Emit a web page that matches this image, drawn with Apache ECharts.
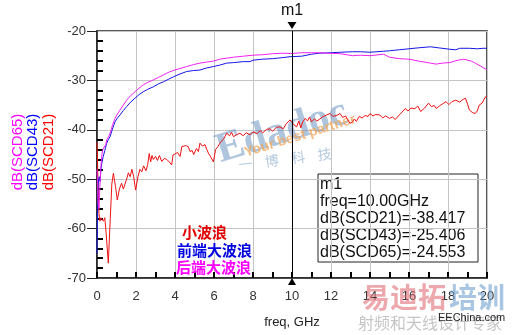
<!DOCTYPE html>
<html>
<head>
<meta charset="utf-8">
<script src="https://cdn.jsdelivr.net/npm/echarts@6/dist/echarts.min.js"></script>
<style>html,body{margin:0;padding:0;background:#fff;}#c{width:512px;height:335px;}</style>
</head>
<body>
<div id="c"></div>
<script>
// ---- data ----
var scd21Freq = [0,0.03,0.07,0.1,0.15,0.2,0.27,0.33,0.4,0.47,0.58,0.68,0.76,0.84,0.95,1.04,1.15,1.26,1.35,1.44,1.52,1.61,1.7,1.79,1.88,1.98,2.1,2.2,2.3,2.39,2.51,2.6,2.68,2.75,2.82,2.89,3.0,3.1,3.2,3.32,3.45,3.58,3.7,3.83,3.9,4.0,4.13,4.26,4.35,4.43,4.55,4.68,4.77,4.88,4.96,5.1,5.2,5.28,5.4,5.47,5.54,5.63,5.71,5.85,5.97,6.08,6.2,6.3,6.39,6.5,6.65,6.8,6.9,7.0,7.15,7.33,7.5,7.65,7.85,8.0,8.2,8.36,8.5,8.7,8.87,9.0,9.2,9.38,9.55,9.7,9.9,10.0,10.1,10.24,10.35,10.45,10.55,10.67,10.8,10.9,11.0,11.15,11.27,11.4,11.55,11.65,11.78,11.95,12.1,12.2,12.35,12.46,12.6,12.75,12.85,12.97,13.1,13.2,13.3,13.45,13.6,13.75,13.9,14.0,14.15,14.3,14.5,14.65,14.8,15.0,15.15,15.3,15.5,15.65,15.8,15.95,16.1,16.3,16.45,16.6,16.8,17.0,17.15,17.3,17.4,17.55,17.7,17.9,18.05,18.2,18.4,18.6,18.75,18.9,19.0,19.1,19.25,19.4,19.5,19.6,19.75,19.85,19.95,20];
var scd21Db = [-42.5,-47,-53,-57,-58.5,-57.8,-58,-58.5,-57.8,-61,-67,-58,-51,-48.8,-51.5,-54.2,-52,-50.8,-52,-51.8,-50,-48.7,-49.5,-48,-49.5,-52.2,-49.5,-48,-48.5,-47.3,-48.3,-47,-44.8,-46.5,-45.2,-46,-45.4,-46.2,-45.2,-46.4,-45.8,-46,-46.5,-47.1,-45.1,-45.4,-44.6,-45.4,-43.4,-43.8,-43.2,-43.4,-44.4,-44.2,-45,-43.8,-44.4,-42.7,-43.3,-43.7,-43,-44,-44.7,-45.6,-46.5,-44,-43.4,-42.7,-43,-41.8,-40.7,-41.2,-40.5,-41.4,-41,-40.7,-41.2,-40.6,-41,-40.4,-40.8,-40.2,-40.6,-39.9,-39.8,-40.3,-39.5,-39.4,-39.8,-38.8,-38,-38.4,-39,-39.4,-38.2,-39.6,-38.4,-37.7,-38.2,-37.4,-38.4,-37.8,-38.2,-37.9,-37.4,-37.8,-37,-36.7,-37.3,-37.7,-37,-36.7,-37.5,-37.2,-37.9,-38.7,-38.4,-37.8,-38.3,-37.3,-37.6,-37.1,-37.3,-36.7,-37.2,-36.9,-37,-37.6,-37.2,-37.7,-37.4,-37.9,-37,-36.4,-35.7,-36.2,-35.6,-35.7,-35.2,-36.3,-35.6,-34.6,-35.3,-35.1,-35.7,-35.2,-34.8,-34.3,-34.9,-34.3,-34,-34.4,-33.9,-33.6,-34.8,-36,-36.5,-36.7,-36.2,-35,-34.6,-33.8,-33.2,-33.3];

var scd43Freq = [0,0.02,0.05,0.08,0.12,0.16,0.2,0.26,0.32,0.4,0.5,0.58,0.67,0.72,0.78,0.85,0.92,1.05,1.18,1.35,1.52,1.72,1.95,2.15,2.37,2.6,2.89,3.15,3.4,3.65,3.91,4.25,4.6,4.95,5.28,5.6,5.97,6.3,6.65,7.0,7.5,7.85,8.0,8.5,9.0,9.5,9.9,10.0,10.5,11.0,11.4,11.95,12.5,13.1,13.5,14.0,14.7,15.0,15.5,16.0,16.5,17.1,17.5,18.1,18.4,18.6,19.1,19.5,19.8,20];
var scd43Db = [-65,-58,-52,-50,-49.5,-50.5,-48,-46.5,-45.4,-44.2,-42.7,-42,-41.4,-41.6,-40,-39.2,-38.4,-37.6,-37,-36.1,-35.3,-34.4,-33.6,-32.9,-32.3,-31.8,-31.3,-30.7,-30.3,-29.8,-29.3,-28.7,-28.2,-28,-27.9,-27.5,-27.2,-26.9,-26.5,-26.4,-26.2,-26.2,-25.9,-25.7,-25.6,-25.4,-25.2,-25.4,-25.1,-24.7,-24.5,-24.4,-24.3,-24.2,-24.2,-24.3,-24.1,-24,-23.8,-23.6,-23.4,-23.2,-23.4,-23.7,-23.8,-23.5,-23.5,-23.6,-23.5,-23.5];

var scd65Freq = [0,0.03,0.06,0.1,0.14,0.2,0.25,0.3,0.37,0.45,0.5,0.58,0.67,0.8,0.92,1.05,1.18,1.35,1.52,1.72,1.95,2.15,2.37,2.6,2.89,3.15,3.4,3.65,3.91,4.25,4.6,4.95,5.28,5.6,5.97,6.3,6.65,7.0,7.5,8.0,8.5,9.0,9.5,10.0,10.5,11.0,11.4,11.9,12.5,13.1,13.5,14.0,14.7,15.0,15.5,16.0,16.5,17.1,17.4,17.7,18.1,18.4,18.8,19.2,19.4,19.8,20];
var scd65Db = [-48,-51,-55,-56,-52,-47.5,-45,-44,-43.5,-43,-42,-41.5,-40.7,-39,-37.7,-36.8,-36,-35,-34,-33.1,-32.3,-31.6,-30.9,-30.4,-29.9,-29.4,-28.9,-28.4,-28,-27.6,-27.2,-26.8,-26.5,-26.3,-26.1,-25.7,-25.5,-25.3,-25.1,-24.9,-24.8,-24.6,-24.5,-24.55,-24.4,-24.4,-24.4,-24.5,-24.6,-25.0,-24.9,-25.0,-24.7,-25.3,-25.6,-25.7,-26.1,-26.5,-26.7,-26.5,-26.4,-26.0,-25.7,-26.1,-26.5,-27.4,-27.9];

var seriesNames = ['dB(SCD21)', 'dB(SCD43)', 'dB(SCD65)'];
var xTicks = [0,2,4,6,8,10,12,14,16,18,20];
var yTicks = [-70,-60,-50,-40,-30,-20];
var markerFreq = 10;
var markerName = 'm1';
var markerLines = ['m1', 'freq=10.00GHz', 'dB(SCD21)=-38.417', 'dB(SCD43)=-25.406', 'dB(SCD65)=-24.553'];
var noteTexts = ['小波浪', '前端大波浪', '后端大波浪'];
var xAxisTitle = 'freq, GHz';

// ---- styles ----
var RED = '#ee1111', BLUE = '#1515e8', MAG = '#f020f0';
var FONT = '"Liberation Sans", Arial, sans-serif';
var CJK = '"Noto Sans CJK SC", sans-serif';

function pairs(f, v) { return f.map(function (x, i) { return [x, v[i]]; }); }

var chart = echarts.init(document.getElementById('c'));

var option = {
  animation: false,
  grid: { left: 97, right: 25, top: 31, bottom: 57, show: true, borderColor: '#222', borderWidth: 1.5 },
  xAxis: [{
    type: 'value', min: xTicks[0], max: xTicks[xTicks.length - 1], interval: 2,
    axisLine: { show: true, lineStyle: { color: '#222', width: 1.5 } },
    axisTick: { show: true, inside: true, length: 6, lineStyle: { color: '#000', width: 2 } },
    minorTick: { show: true, splitNumber: 2, length: 6, lineStyle: { color: '#000', width: 2 } },
    axisLabel: { color: '#333', fontSize: 13, fontFamily: FONT, margin: 12 },
    splitLine: { show: true, lineStyle: { color: '#c4c4c4', width: 1 } },
    name: xAxisTitle, nameLocation: 'middle', nameGap: 38,
    nameTextStyle: { color: '#222', fontSize: 13, fontFamily: FONT }
  }],
  yAxis: [{
    type: 'value', min: yTicks[0], max: yTicks[yTicks.length - 1], interval: 10,
    axisLine: { show: true, lineStyle: { color: '#222', width: 1.5 } },
    axisTick: { show: true, inside: false, length: 10, lineStyle: { color: '#222', width: 1 } },
    minorTick: { show: true, splitNumber: 5, length: -6, lineStyle: { color: '#000', width: 2 } },
    axisLabel: { color: '#333', fontSize: 13, fontFamily: FONT, margin: 11 },
    splitLine: { show: true, lineStyle: { color: '#c4c4c4', width: 1 } }
  }],
  series: [
    {
      name: seriesNames[0], type: 'line', showSymbol: false, z: 3,
      data: pairs(scd21Freq, scd21Db),
      lineStyle: { color: RED, width: 1 }, itemStyle: { color: RED }
    },
    {
      name: seriesNames[1], type: 'line', showSymbol: false, z: 3,
      data: pairs(scd43Freq, scd43Db),
      lineStyle: { color: BLUE, width: 1 }, itemStyle: { color: BLUE }
    },
    {
      name: seriesNames[2], type: 'line', showSymbol: false, z: 4,
      data: pairs(scd65Freq, scd65Db),
      lineStyle: { color: MAG, width: 1 }, itemStyle: { color: MAG }
    },
    {
      name: markerName, type: 'line', data: [], z: 5, silent: true,
      markLine: {
        silent: true, symbol: 'none', animation: false,
        label: { show: false },
        lineStyle: { color: '#000', width: 1, type: 'solid' },
        data: [{ xAxis: markerFreq }]
      },
      markPoint: {
        silent: true, animation: false,
        data: [
          { coord: [markerFreq, yTicks[yTicks.length - 1]], symbol: 'triangle', symbolSize: [9, 7], symbolRotate: 180, symbolOffset: [0, -5.5],
            itemStyle: { color: '#000' },
            label: { show: true, position: 'top', distance: 3, formatter: markerName, color: '#111', fontSize: 16, fontFamily: FONT } },
          { coord: [markerFreq, yTicks[0]], symbol: 'triangle', symbolSize: [8, 7], symbolOffset: [0, 3.5],
            itemStyle: { color: '#000' }, label: { show: false } }
        ]
      }
    }
  ],
  graphic: [
    // watermarks
    { type: 'text', x: 282, y: 132, rotation: 0.3, z: 1, silent: true,
      style: { text: 'Edadoc', fill: 'rgba(110,150,195,0.55)', font: 'bold 42px "Liberation Serif", serif', align: 'center', verticalAlign: 'middle' } },
    { type: 'text', x: 300, y: 136, rotation: 0.3, z: 2, silent: true,
      style: { text: 'Your best partner', fill: 'rgba(240,165,90,0.75)', font: 'bold 14px ' + FONT, align: 'center', verticalAlign: 'middle' } },
    { type: 'text', x: 285, y: 159, rotation: 0.12, z: 1, silent: true,
      style: { text: '一    博    科    技', fill: 'rgba(130,165,200,0.6)', font: '14px ' + CJK, align: 'center', verticalAlign: 'middle' } },
    { type: 'text', x: 362, y: 297, z: 1, silent: true,
      style: { text: '易迪拓', fill: 'rgba(225,110,120,0.6)', font: 'bold 28px ' + CJK, align: 'left', verticalAlign: 'middle' } },
    { type: 'text', x: 449, y: 297, z: 1, silent: true,
      style: { text: '培训', fill: 'rgba(110,160,205,0.6)', font: 'bold 28px ' + CJK, align: 'left', verticalAlign: 'middle' } },
    { type: 'text', x: 358, y: 323, z: 1, silent: true,
      style: { text: '射频和天线设计专家', fill: 'rgba(150,150,150,0.55)', font: '16px ' + CJK, align: 'left', verticalAlign: 'middle' } },
    { type: 'text', x: 438, y: 318, z: 5, silent: true,
      style: { text: 'EEChina.com', fill: '#222', font: '11px ' + FONT, align: 'left', verticalAlign: 'middle' } },
    // y-axis titles
    { type: 'text', x: 18, y: 152, rotation: Math.PI / 2, silent: true,
      style: { text: seriesNames[2], fill: '#ff00ff', font: '15px ' + FONT, align: 'center', verticalAlign: 'middle' } },
    { type: 'text', x: 33, y: 152, rotation: Math.PI / 2, silent: true,
      style: { text: seriesNames[1], fill: '#0000ff', font: '15px ' + FONT, align: 'center', verticalAlign: 'middle' } },
    { type: 'text', x: 48.5, y: 152, rotation: Math.PI / 2, silent: true,
      style: { text: seriesNames[0], fill: '#ff0000', font: '15px ' + FONT, align: 'center', verticalAlign: 'middle' } },
    // annotations
    { type: 'text', x: 182, y: 232, z: 6, silent: true,
      style: { text: noteTexts[0], fill: '#e00000', font: 'bold 15px ' + CJK, align: 'left', verticalAlign: 'middle' } },
    { type: 'text', x: 177, y: 250, z: 6, silent: true,
      style: { text: noteTexts[1], fill: '#0000e0', font: 'bold 15px ' + CJK, align: 'left', verticalAlign: 'middle' } },
    { type: 'text', x: 176, y: 267, z: 6, silent: true,
      style: { text: noteTexts[2], fill: '#ff00ff', font: 'bold 15px ' + CJK, align: 'left', verticalAlign: 'middle' } },
    // marker readout box
    { type: 'group', x: 318, y: 174, z: 10, silent: true, children: [
      { type: 'rect', shape: { x: 0, y: 0, width: 160, height: 88 }, style: { fill: '#fff', stroke: '#222', lineWidth: 1 } },
      { type: 'text', x: 2, y: 2, style: { text: markerLines.join('\n'), fill: '#111', font: '16px ' + FONT, lineHeight: 17, align: 'left', verticalAlign: 'top' } }
    ] }
  ]
};

chart.setOption(option);
</script>
</body>
</html>
